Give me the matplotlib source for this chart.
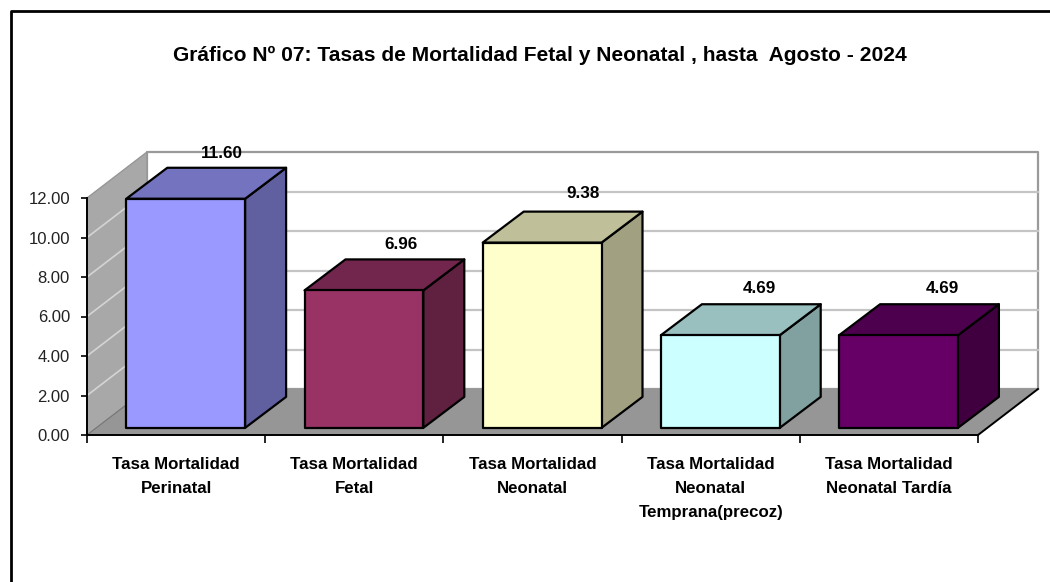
import matplotlib
matplotlib.use('Agg')
import matplotlib.pyplot as plt
from matplotlib.lines import Line2D
from matplotlib.patches import Polygon
from matplotlib.colors import to_rgb

categorias = ['Tasa Mortalidad\nPerinatal', 'Tasa Mortalidad\nFetal', 'Tasa Mortalidad\nNeonatal',
              'Tasa Mortalidad\nNeonatal\nTemprana(precoz)', 'Tasa Mortalidad\nNeonatal Tardía']
tasas = [11.60, 6.96, 9.38, 4.69, 4.69]
colores = ['#9999FF', '#993366', '#FFFFCC', '#CCFFFF', '#660066']
ticks_y = [0, 2, 4, 6, 8, 10, 12]
titulo = 'Gráfico Nº 07: Tasas de Mortalidad Fetal y Neonatal , hasta  Agosto - 2024'

# ajuste fino de las etiquetas, en pixeles
ajuste_x = [-1, 0, 4, 2, 7]
ajuste_y = [0, 0, 4, 1, 1]

plt.rcParams['font.family'] = ['Liberation Sans', 'DejaVu Sans']

W, H = 1050, 582
fig = plt.figure(figsize=(W / 100, H / 100), dpi=100, facecolor='white')
# el plano frontal del grafico, en pixeles
ax = fig.add_axes([87 / W, 1 - 435 / H, 891 / W, 237 / H])
ax.set_xlim(0, 5)
ax.set_ylim(0, 12)
ax.patch.set_alpha(0)

# profundidad en unidades de datos
px_x = 5 / 891
px_y = 12 / 237
dx = 60 * px_x
dy = 46 * px_y


def cara(puntos, color, borde='none', lw=0, z=1):
    ax.add_patch(Polygon(puntos, closed=True, facecolor=color, edgecolor=borde, lw=lw,
                         clip_on=False, zorder=z, joinstyle='round'))


# paredes y piso
cara([(dx, dy), (5 + dx, dy), (5 + dx, 12 + dy), (dx, 12 + dy)], 'white', '#9a9a9a', 1.6, 0.5)
cara([(0, 0), (dx, dy), (dx, 12 + dy), (0, 12)], '#a8a8a8', '#969696', 1, 0.6)
cara([(0, 0), (5, 0), (5 + dx, dy), (dx, dy)], '#969696', 'none', 0, 0.7)

for v in ticks_y[1:-1]:
    ax.plot([dx, 5 + dx], [v + dy, v + dy], color='#c4c4c4', lw=1.6, clip_on=False, zorder=0.55)
    ax.plot([0, dx], [v, v + dy], color='#d4d4d4', lw=1.2, clip_on=False, zorder=0.65)

# barras 3D
ancho = 1 / 1.5
margen = (1 - ancho) / 2
fx = 0.16 * dx
fy = 0.155 * dy
bx = 41 * px_x
by = 31 * px_y
for i, (v, c) in enumerate(zip(tasas, colores)):
    x0 = i + margen + fx
    x1 = x0 + ancho
    rgb = to_rgb(c)
    arriba = [k * 0.75 for k in rgb]
    lado = [k * 0.63 for k in rgb]
    tope = v + fy
    cara([(x1, fy), (x1 + bx, fy + by), (x1 + bx, tope + by), (x1, tope)], lado, 'black', 1.6, 2 + i)
    cara([(x0, tope), (x1, tope), (x1 + bx, tope + by), (x0 + bx, tope + by)], arriba, 'black', 1.6, 2 + i)
    cara([(x0, fy), (x1, fy), (x1, tope), (x0, tope)], c, 'black', 1.6, 2 + i)
    ax.text(i + 0.5 + fx + bx * 0.9 + ajuste_x[i] * px_x, tope + by + 0.35 + ajuste_y[i] * px_y,
            f'{v:.2f}', ha='center', va='bottom',
            fontsize=12.3, fontweight='bold', color='black', zorder=10)

# ejes
for lado_eje in ['top', 'right']:
    ax.spines[lado_eje].set_visible(False)
for lado_eje in ['left', 'bottom']:
    ax.spines[lado_eje].set_linewidth(1.4)
    ax.spines[lado_eje].set_zorder(1.5)
ax.plot([5, 5 + dx], [0, dy], color='black', lw=1.4, clip_on=False, zorder=1.5)
ax.plot([0, dx], [0, dy], color='#777777', lw=0.8, clip_on=False, zorder=0.8)

ax.set_yticks(ticks_y)
ax.set_yticklabels([f'{v:.2f}' for v in ticks_y], fontsize=12, color='#222222')
ax.tick_params(axis='y', length=4.3, width=1.2, pad=8)
ax.set_xticks(range(6))
ax.set_xticklabels([])
ax.tick_params(axis='x', which='major', length=6, width=1.2)
ax.set_xticks([i + 0.5 for i in range(5)], minor=True)
ax.set_xticklabels(categorias, minor=True, fontsize=12.2, fontweight='bold', linespacing=1.75)
ax.tick_params(axis='x', which='minor', length=0, pad=15.5)

fig.text(540 / W, 1 - 55 / H, titulo, ha='center', va='center', fontsize=15.15, fontweight='bold')

# marco de la imagen
fig.add_artist(Line2D([10.5 / W, 10.5 / W, 1], [0, 1 - 11 / H, 1 - 11 / H], color='black', lw=2))

fig.savefig('out.png', dpi=100)
